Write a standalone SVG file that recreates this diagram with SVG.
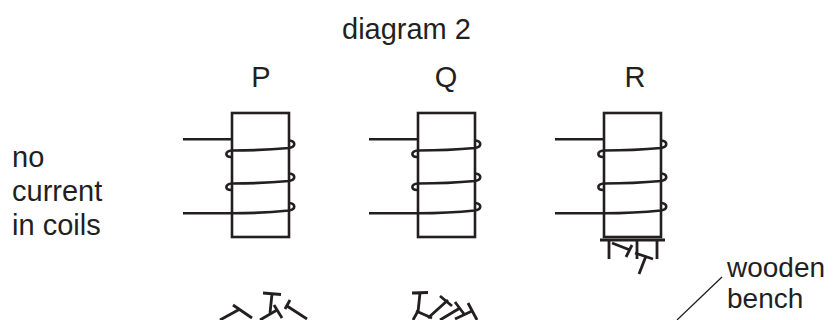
<svg xmlns="http://www.w3.org/2000/svg" width="833" height="320" viewBox="0 0 833 320">
<style>
  .t { font-family: "Liberation Sans", Arial, sans-serif; font-size: 29px; fill: #231f20; }
  .s { font-size: 28px; }
  .ln { fill: none; stroke: #231f20; stroke-width: 2.6; }
  .nail { fill: none; stroke: #231f20; stroke-width: 2.8; stroke-linecap: butt; }
  .lead { fill: none; stroke: #231f20; stroke-width: 1.3; }
</style>
<defs>
  <g id="magnet">
    <rect class="ln" x="232" y="113" width="57" height="124"/>
    <path class="ln" d="M183,139.3 H232"/>
    <path class="ln" d="M232,157 C225,157.5 224,151 232,150.5 Q262,150.5 289,148 C296,147 296,141 289,140.5"/>
    <path class="ln" d="M232,190 C225,190.5 224,184 232,183.5 Q262,183.5 289,181 C296,180 296,174 289,173.5"/>
    <path class="ln" d="M183,213.3 H232 Q262,213.3 289,210.5 C296,209.5 296,203.5 289,203"/>
  </g>
</defs>
<text class="t" x="342" y="39">diagram 2</text>
<text class="t" x="12" y="167">no</text>
<text class="t" x="12" y="201">current</text>
<text class="t" x="12" y="235">in coils</text>
<g id="P">
  <text class="t" x="261" y="87" text-anchor="middle">P</text>
  <use href="#magnet"/>
  <g class="nail">
    <path d="M220,320 L240,309"/>
    <path d="M233,305 L252,318"/>
    <path d="M263,293 L281,294.5 M272,294 L270,313"/>
    <path d="M260,320 L277,310"/>
    <path d="M274,305 L282,318"/>
    <path d="M285,309 L290,300"/>
    <path d="M287,306 L307,319"/>
  </g>
</g>
<g id="Q">
  <text class="t" x="446" y="87" text-anchor="middle">Q</text>
  <use href="#magnet" transform="translate(186,0)"/>
  <g class="nail">
    <path d="M412,293 L428,292.5 M420,293 L418,312"/>
    <path d="M413,320 L418,311 M416,311 L432,318"/>
    <path d="M428,318 L448,300 M440,296 L452,306"/>
    <path d="M440,320 L460,308 M455,302 L464,314"/>
    <path d="M455,319 L472,311 M468,303 L477,320"/>
  </g>
</g>
<g id="R">
  <text class="t" x="635" y="87" text-anchor="middle">R</text>
  <use href="#magnet" transform="translate(372,0)"/>
  <g class="nail">
    <path d="M600,240 H665"/>
    <path d="M609,240 V259"/>
    <path d="M612,243 L630,250 M626,257 L632,245"/>
    <path d="M637,240 V259"/>
    <path d="M657,240 V259"/>
    <path d="M635,253 L653,259 M646,256 L639,274"/>
  </g>
</g>
<g id="bench-label">
  <text class="t s" x="727" y="277">wooden</text>
  <text class="t s" x="727" y="308">bench</text>
</g>
<g id="connectors">
  <path class="lead" d="M722,277 L677,320"/>
</g>
</svg>
